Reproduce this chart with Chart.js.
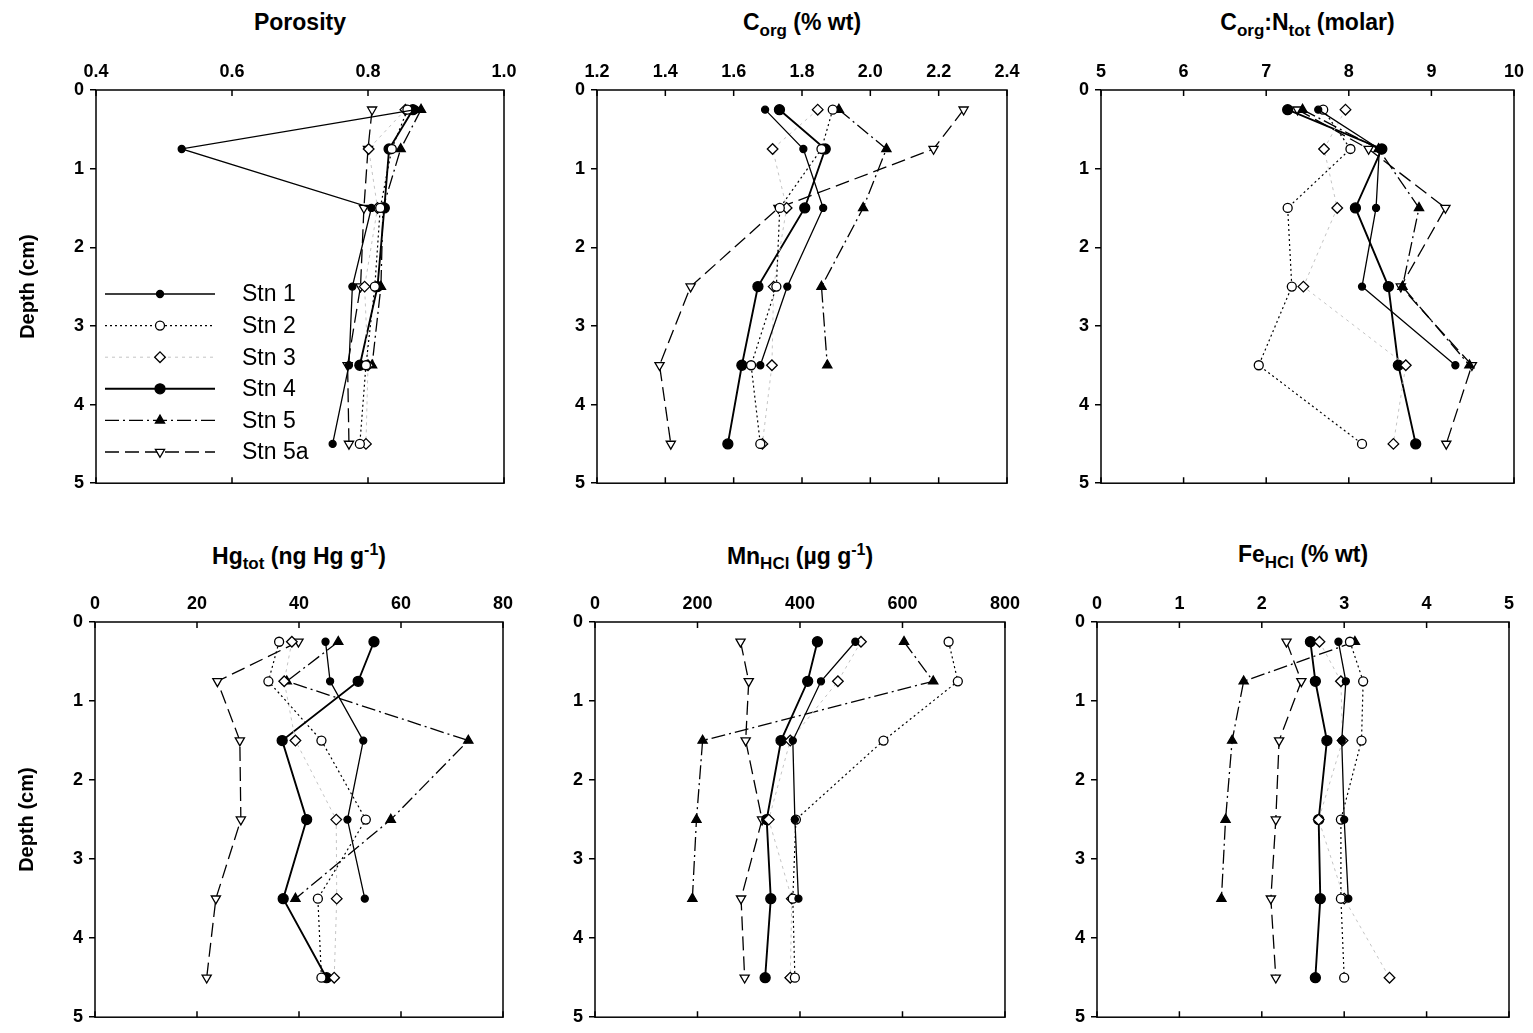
<!DOCTYPE html>
<html>
<head>
<meta charset="utf-8">
<script src="https://cdn.jsdelivr.net/npm/chart.js@4.4.0/dist/chart.umd.min.js"></script>
<style>
body { margin: 0; background: #fff; width: 1533px; height: 1033px; position: relative; overflow: hidden; font-family: "Liberation Sans", Arial, sans-serif; }
.title { position: absolute; width: 440px; text-align: center; font-weight: bold; font-size: 23px; white-space: nowrap; color: #000; }
.title sub { font-size: 17px; }
.title sup { font-size: 16px; }
canvas { position: absolute; }
</style>
</head>
<body>
<script>
// depth of each slice (cm)
const depth = [0.25, 0.75, 1.5, 2.5, 3.5, 4.5];
const stations = ['Stn 1', 'Stn 2', 'Stn 3', 'Stn 4', 'Stn 5', 'Stn 5a'];

// porosity
const porosity1  = [0.870, 0.526, 0.805, 0.777, 0.772, 0.748];
const porosity2  = [0.858, 0.835, 0.818, 0.810, 0.797, 0.788];
const porosity3  = [0.855, 0.801, 0.814, 0.795, 0.800, 0.797];
const porosity4  = [0.866, 0.831, 0.824, 0.814, 0.788, null];
const porosity5  = [0.878, 0.848, 0.822, 0.819, 0.806, null];
const porosity5a = [0.806, 0.800, 0.794, 0.789, 0.770, 0.772];

// Corg (% wt)
const corg1  = [1.692, 1.804, 1.862, 1.757, 1.678, null];
const corg2  = [1.890, 1.857, 1.735, 1.725, 1.651, 1.678];
const corg3  = [1.846, 1.714, 1.755, 1.717, 1.712, 1.684];
const corg4  = [1.734, 1.868, 1.808, 1.671, 1.624, 1.583];
const corg5  = [1.908, 2.047, 1.979, 1.857, 1.874, null];
const corg5a = [2.273, 2.185, 1.731, 1.474, 1.383, 1.416];

// Corg:Ntot (molar)
const cn1  = [7.63, 8.37, 8.33, 8.16, 9.29, null];
const cn2  = [7.69, 8.02, 7.26, 7.31, 6.91, 8.16];
const cn3  = [7.96, 7.70, 7.86, 7.45, 8.69, 8.54];
const cn4  = [7.26, 8.40, 8.08, 8.48, 8.60, 8.81];
const cn5  = [7.44, 8.36, 8.85, 8.65, 9.46, null];
const cn5a = [7.38, 8.24, 9.17, 8.63, 9.49, 9.18];

// Hgtot (ng Hg g-1)
const hg1  = [45.2, 46.1, 52.6, 49.5, 52.9, null];
const hg2  = [36.1, 34.0, 44.4, 53.1, 43.7, 44.4];
const hg3  = [38.6, 37.1, 39.3, 47.3, 47.4, 46.9];
const hg4  = [54.7, 51.6, 36.7, 41.5, 36.9, 45.4];
const hg5  = [47.7, 37.6, 73.2, 58.0, 39.3, null];
const hg5a = [39.9, 24.0, 28.4, 28.6, 23.7, 21.9];

// MnHCl (ug g-1)
const mn1  = [508, 441, 386, 390, 397, null];
const mn2  = [690, 708, 563, 392, 386, 390];
const mn3  = [519, 474, 381, 339, 384, 381];
const mn4  = [434, 415, 363, 335, 343, 332];
const mn5  = [603, 660, 210, 198, 190, null];
const mn5a = [284, 300, 294, 326, 285, 292];

// FeHCl (% wt)
const fe1  = [2.93, 3.02, 2.97, 3.00, 3.05, null];
const fe2  = [3.07, 3.23, 3.21, 2.96, 2.96, 3.00];
const fe3  = [2.70, 2.96, 2.98, 2.69, 3.00, 3.55];
const fe4  = [2.59, 2.65, 2.79, 2.69, 2.71, 2.65];
const fe5  = [3.13, 1.78, 1.64, 1.56, 1.51, null];
const fe5a = [2.30, 2.48, 2.21, 2.17, 2.11, 2.17];

// marker / line look for each station
const styles = [
    { pointStyle: 'circle',   rotation: 0,   radius: 3.5, fill: '#000', line: '#000', dash: [],            width: 1.3 },
    { pointStyle: 'circle',   rotation: 0,   radius: 4.5, fill: '#fff', line: '#000', dash: [2, 3],        width: 1.2 },
    { pointStyle: 'rectRot',  rotation: 0,   radius: 5.3, fill: '#fff', line: '#c4c4c4', dash: [3, 4],     width: 1 },
    { pointStyle: 'circle',   rotation: 0,   radius: 5,   fill: '#000', line: '#000', dash: [],            width: 1.9 },
    { pointStyle: 'triangle', rotation: 0,   radius: 5.3, fill: '#000', line: '#000', dash: [14, 4, 2, 4], width: 1.3 },
    { pointStyle: 'triangle', rotation: 180, radius: 5.3, fill: '#fff', line: '#000', dash: [14, 6],       width: 1.3 }
];

const panels = [
    { title: 'Porosity', min: 0.4, max: 1.0, step: 0.2, dec: 1,
      series: [porosity1, porosity2, porosity3, porosity4, porosity5, porosity5a],
      left: 96, top: 90, w: 408, h: 398, depthTitle: true, legend: true },
    { title: 'C<sub>org</sub> (% wt)', min: 1.2, max: 2.4, step: 0.2, dec: 1,
      series: [corg1, corg2, corg3, corg4, corg5, corg5a],
      left: 597, top: 90, w: 410, h: 398 },
    { title: 'C<sub>org</sub>:N<sub>tot</sub> (molar)', min: 5, max: 10, step: 1, dec: 0,
      series: [cn1, cn2, cn3, cn4, cn5, cn5a],
      left: 1101, top: 90, w: 413, h: 398 },
    { title: 'Hg<sub>tot</sub> (ng Hg g<sup>-1</sup>)', min: 0, max: 80, step: 20, dec: 0,
      series: [hg1, hg2, hg3, hg4, hg5, hg5a],
      left: 95, top: 622, w: 408, h: 400, depthTitle: true },
    { title: 'Mn<sub>HCl</sub> (&micro;g g<sup>-1</sup>)', min: 0, max: 800, step: 200, dec: 0,
      series: [mn1, mn2, mn3, mn4, mn5, mn5a],
      left: 595, top: 622, w: 410, h: 400 },
    { title: 'Fe<sub>HCl</sub> (% wt)', min: 0, max: 5, step: 1, dec: 0,
      series: [fe1, fe2, fe3, fe4, fe5, fe5a],
      left: 1097, top: 622, w: 412, h: 400 }
];

const tickFont = { family: '"Liberation Sans", Arial, sans-serif', size: 18, weight: 'bold' };

// box round the plot and inward ticks on top and bottom
const frame = {
    id: 'frame',
    afterDraw(chart) {
        const { ctx, chartArea: a } = chart;
        const x = chart.scales.x;
        ctx.save();
        ctx.strokeStyle = '#000';
        ctx.lineWidth = 1.5;
        ctx.setLineDash([]);
        ctx.strokeRect(a.left, a.top, a.right - a.left, a.bottom - a.top);
        x.ticks.forEach(t => {
            const px = x.getPixelForValue(t.value);
            ctx.beginPath();
            ctx.moveTo(px, a.top); ctx.lineTo(px, a.top + 6);
            ctx.moveTo(px, a.bottom); ctx.lineTo(px, a.bottom - 6);
            ctx.stroke();
        });
        ctx.restore();
    }
};

// legend drawn inside the porosity panel
const insideLegend = {
    id: 'insideLegend',
    afterDatasetsDraw(chart, args, opts) {
        if (!opts.show) return;
        const { ctx, chartArea: a } = chart;
        ctx.save();
        stations.forEach((name, i) => {
            const st = styles[i];
            const y = a.top + 204 + i * 31.6;
            ctx.strokeStyle = st.line;
            ctx.lineWidth = st.width;
            ctx.setLineDash(st.dash);
            ctx.beginPath();
            ctx.moveTo(a.left + 9, y);
            ctx.lineTo(a.left + 119, y);
            ctx.stroke();
            ctx.setLineDash([]);
            ctx.fillStyle = st.fill;
            ctx.strokeStyle = '#000';
            ctx.lineWidth = 1.3;
            Chart.helpers.drawPoint(ctx, { pointStyle: st.pointStyle, radius: st.radius, rotation: st.rotation, borderWidth: 1.3 }, a.left + 64, y);
            ctx.fillStyle = '#000';
            ctx.font = '23px "Liberation Sans", Arial, sans-serif';
            ctx.textBaseline = 'middle';
            ctx.fillText(name, a.left + 146, y + 1);
        });
        ctx.restore();
    }
};

panels.forEach(p => {
    const yW = p.depthTitle ? 96 : 40;
    const xH = 40;
    const padR = 22, padB = 12;

    const t = document.createElement('div');
    t.className = 'title';
    t.innerHTML = p.title;
    t.style.left = (p.left + p.w / 2 - 220) + 'px';
    t.style.top = (p.top - 81) + 'px';
    document.body.appendChild(t);

    const can = document.createElement('canvas');
    can.width = yW + p.w + padR;
    can.height = xH + p.h + padB;
    can.style.left = (p.left - yW) + 'px';
    can.style.top = (p.top - xH) + 'px';
    document.body.appendChild(can);

    const datasets = p.series.map((vals, i) => {
        const st = styles[i];
        return {
            label: stations[i],
            data: depth.map((d, k) => ({ x: vals[k], y: d })).filter(pt => pt.x !== null),
            showLine: true,
            borderColor: st.line,
            borderWidth: st.width,
            borderDash: st.dash,
            pointStyle: st.pointStyle,
            pointRotation: st.rotation,
            pointRadius: st.radius,
            pointBackgroundColor: st.fill,
            pointBorderColor: '#000',
            pointBorderWidth: 1.3,
            tension: 0
        };
    });

    new Chart(can, {
        type: 'scatter',
        data: { datasets: datasets },
        options: {
            responsive: false,
            animation: false,
            devicePixelRatio: 1,
            layout: { padding: { left: 0, top: 0, right: padR, bottom: padB } },
            plugins: {
                legend: { display: false },
                tooltip: { enabled: false },
                insideLegend: { show: !!p.legend }
            },
            scales: {
                x: {
                    type: 'linear',
                    position: 'top',
                    min: p.min,
                    max: p.max,
                    afterFit: s => { s.height = xH; },
                    grid: { display: false, drawTicks: false },
                    border: { display: false },
                    ticks: {
                        stepSize: p.step,
                        autoSkip: false,
                        maxRotation: 0,
                        padding: 7,
                        color: '#000',
                        font: tickFont,
                        callback: v => Number(v).toFixed(p.dec)
                    }
                },
                y: {
                    type: 'linear',
                    reverse: true,
                    min: 0,
                    max: 5,
                    afterFit: s => { s.width = yW; },
                    grid: { drawOnChartArea: false, drawTicks: true, tickLength: 6, color: '#000', lineWidth: 1.5 },
                    border: { display: false },
                    ticks: { stepSize: 1, padding: 6, color: '#000', font: tickFont },
                    title: {
                        display: !!p.depthTitle,
                        text: 'Depth (cm)',
                        color: '#000',
                        padding: { top: 16, bottom: 0 },
                        font: { family: '"Liberation Sans", Arial, sans-serif', size: 20, weight: 'bold' }
                    }
                }
            }
        },
        plugins: [frame, insideLegend]
    });
});
</script>
</body>
</html>
